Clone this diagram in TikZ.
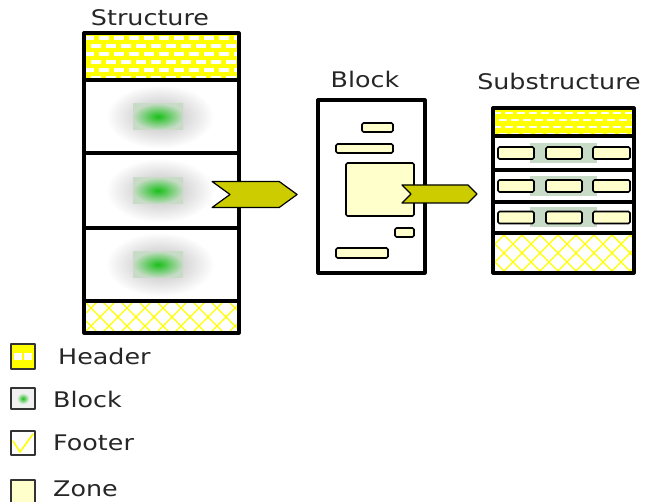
\documentclass[tikz,border=0pt]{standalone}
\usepackage{fontspec}
\setmainfont{DejaVu Sans}
\usepackage{tikz}
\usetikzlibrary{shapes.symbols,positioning}
\definecolor{ffffqq}{rgb}{1,1,0}
\definecolor{ccccqq}{rgb}{0.8,0.8,0}
\definecolor{ffffcc}{rgb}{1,1,0.8}
\definecolor{codcco}{rgb}{0.78,0.86,0.78}
\definecolor{ttqqtt}{rgb}{0.1,0.75,0.1}
\begin{document}
\begin{tikzpicture}[line cap=round,line join=round,x=1pt,y=-1pt,
    box/.style={draw=black,line width=3.2pt,inner sep=0pt,outer sep=0pt,anchor=north west},
    zone/.style={draw=black,fill=ffffcc,line width=1.7pt,rounded corners=1.5pt},
    title/.style={font=\fontsize{21.5}{25}\selectfont,xscale=1.18,inner sep=0pt,anchor=base,text=black!85},
    legtext/.style={font=\fontsize{21.5}{25}\selectfont,xscale=1.18,inner sep=0pt,anchor=base west,text=black!85},
    sig/.style={signal,signal to=east,signal from=west,draw=black,fill=ccccqq,line width=1.2pt,inner sep=0pt,outer sep=0pt,anchor=west},
    icon/.style={draw=black!80,line width=1.6pt}]
                    \useasboundingbox (0,0) rectangle (653,502);
                    \begin{scope}
                    \clip (84,33) rectangle (239,80);
                    \fill[ffffqq] (84,33) rectangle (239,80);
                    \foreach \y/\p in {38/0,46/8,54/0,62/8,70/0,78/8}
                    \draw[white,line width=3.2pt,line cap=butt,dash pattern=on 10pt off 5pt,dash phase=\p pt] (84,\y) -- (239,\y);
                    \end{scope}
                    \begin{scope}
                    \clip (84,301) rectangle (239,333);
                    \foreach \x in {30,48,...,260}
                    {\draw[ffffqq,line width=1.4pt] (\x,333) -- (\x+32,301);
                    \draw[ffffqq,line width=1.4pt] (\x,301) -- (\x+32,333);}
                    \end{scope}
                    \foreach \y in {116.5,190.5,264.5}
                    {\shade[inner color=gray!55,outer color=white] (106,\y-32) rectangle (214,\y+32);
                    \shade[inner color=ttqqtt,outer color=codcco] (133,\y-13) rectangle (183,\y+13);}
                    \foreach \y in {80,153,228,301}
                    \draw[line width=3.2pt] (84,\y) -- (239,\y);
                    \node[box,minimum width=155,minimum height=300] (structure) at (84,33) {};
                    \begin{scope}
                    \clip (493,108) rectangle (634,136);
                    \fill[ffffqq] (493,108) rectangle (634,136);
                    \foreach \y/\p in {113/0,120/6,127/0,134/6}
                    \draw[white,line width=2.6pt,line cap=butt,dash pattern=on 8pt off 4pt,dash phase=\p pt] (493,\y) -- (634,\y);
                    \end{scope}
                    \begin{scope}
                    \clip (493,233) rectangle (634,273);
                    \foreach \x in {430,448,...,660}
                    {\draw[ffffqq,line width=1.4pt] (\x,273) -- (\x+40,233);
                    \draw[ffffqq,line width=1.4pt] (\x,233) -- (\x+40,273);}
                    \end{scope}
                    \foreach \y in {153,186,217.5}
                    {\fill[codcco] (530,\y-10) rectangle (597,\y+10);
                    \draw[zone] (498,\y-6) rectangle (534,\y+6);
                    \draw[zone] (546,\y-6) rectangle (582,\y+6);
                    \draw[zone] (593,\y-6) rectangle (630,\y+6);}
                    \foreach \y in {136,170,202,233}
                    \draw[line width=3.2pt] (493,\y) -- (634,\y);
                    \node[box,minimum width=141,minimum height=165] (substructure) at (493,108) {};
                    \node[box,minimum width=107,minimum height=173] (block) at (318,100) {};
                    \draw[zone] (362,123) rectangle (393,132);
                    \draw[zone] (336,144) rectangle (393,153);
                    \draw[zone] (346,163) rectangle (414,216);
                    \draw[zone] (395,228) rectangle (414,237);
                    \draw[zone] (336,248) rectangle (388,258);
                    \node[sig,signal pointer angle=72,minimum width=85,minimum height=26] (arrA) at (230,194.5) {};
                    \node[sig,signal pointer angle=90,minimum width=75,minimum height=18] (arrB) at (411,194) {};
                    \node[title] (structurelabel) at (150,26) {Structure};
                    \node[title] (blocklabel) at (365,88) {Block};
                    \node[title] (substructurelabel) at (559,90) {Substructure};
                    \fill[ffffqq] (11,344) rectangle (35,369);
                    \fill[white] (14,353) rectangle (32,360);
                    \draw[ffffqq,line width=1.5pt] (23,353) -- (23,360);
                    \draw[icon] (11,344) rectangle (35,369);
                    \fill[gray!12] (11,388) rectangle (35,409);
                    \shade[inner color=ttqqtt,outer color=gray!12] (17,393) rectangle (29,404);
                    \draw[icon] (11,388) rectangle (35,409);
                    \fill[white] (11,431) rectangle (35,455);
                    \draw[ffffqq,line width=1.6pt] (13,441) -- (20,452) -- (33,434);
                    \draw[icon] (11,431) rectangle (35,455);
                    \draw[icon,fill=ffffcc] (11,480) rectangle (35,505);
                    \node[legtext] (headerkey) at (58,364) {Header};
                    \node[legtext] (blockkey) at (53,407) {Block};
                    \node[legtext] (footerkey) at (53,450) {Footer};
                    \node[legtext] (zonekey) at (53,496) {Zone};
                \end{tikzpicture}
\end{document}
